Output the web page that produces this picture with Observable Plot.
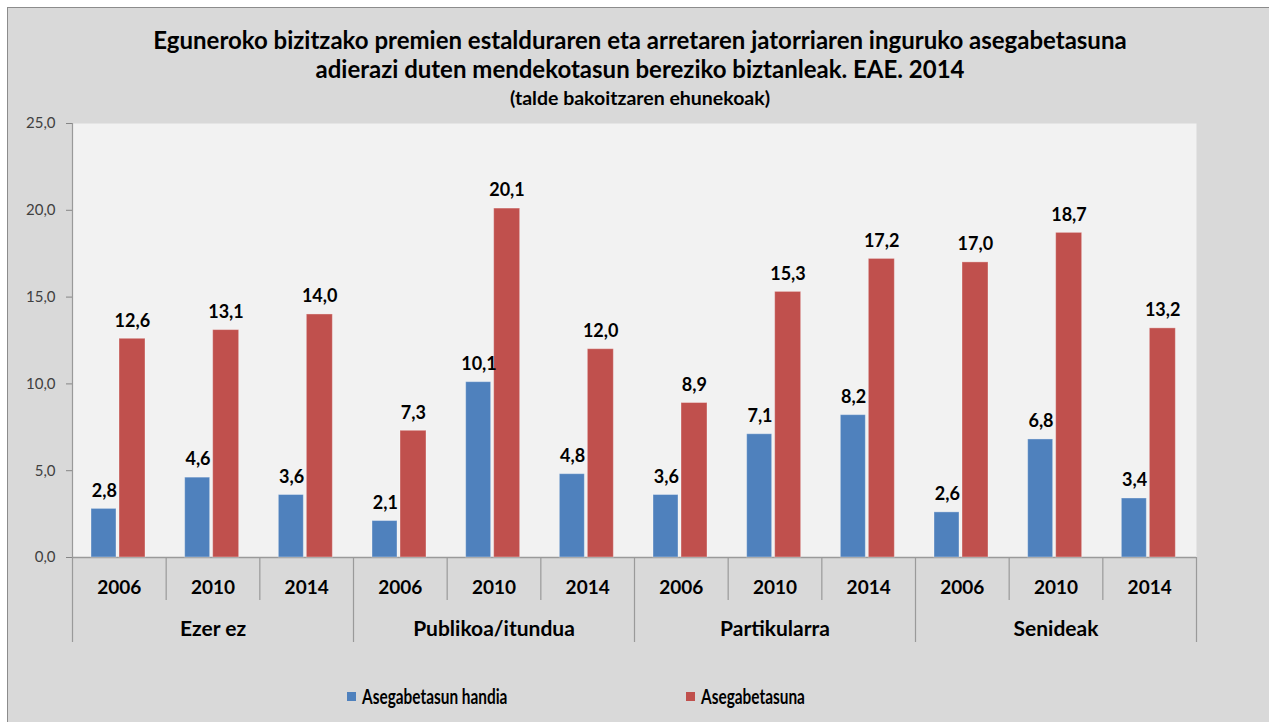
<!DOCTYPE html>
<html>
<head>
<meta charset="utf-8">
<script src="https://cdn.jsdelivr.net/npm/d3@7"></script>
<script src="https://cdn.jsdelivr.net/npm/@observablehq/plot@0.6"></script>
<style>
  html, body { margin: 0; padding: 0; background: #ffffff; }
  body { width: 1269px; height: 722px; position: relative; overflow: hidden; font-family: Lato, "Open Sans", sans-serif; }
  #box { position: absolute; left: 7px; top: 7px; width: 1270px; height: 720px; background: #d9d9d9; border: 1px solid #8c8c8c; box-sizing: border-box; }
  #chart { position: absolute; left: 0; top: 0; }
  .title { position: absolute; left: 0; width: 1280px; text-align: center; font-weight: bold; color: #000; white-space: nowrap; }
  #t1 { top: 25px; font-size: 24px; }
  #t2 { top: 54px; font-size: 24px; }
  #t3 { top: 86px; font-size: 19.5px; }
  #legend { position: absolute; top: 684px; left: 0; font-weight: bold; font-size: 20.5px; color: #000; }
  .li { position: absolute; white-space: nowrap; display: flex; align-items: center; }
  .sw { width: 9px; height: 9px; display: inline-block; margin-right: 6px; }
  .lt { display: inline-block; transform: scaleX(0.75); transform-origin: left center; }
</style>
</head>
<body>
<div id="box"></div>
<div id="chart"></div>
<div class="title" id="t1">Eguneroko bizitzako premien estalduraren eta arretaren jatorriaren inguruko asegabetasuna</div>
<div class="title" id="t2">adierazi duten mendekotasun bereziko biztanleak. EAE. 2014</div>
<div class="title" id="t3">(talde bakoitzaren ehunekoak)</div>
<div id="legend"></div>
<script>
const groups = ["Ezer ez", "Publikoa/itundua", "Partikularra", "Senideak"];
const years = ["2006", "2010", "2014"];
const seriesNames = ["Asegabetasun handia", "Asegabetasuna"];
const seriesColors = ["#4f81bd", "#c0504d"];
const handia = [2.8, 4.6, 3.6, 2.1, 10.1, 4.8, 3.6, 7.1, 8.2, 2.6, 6.8, 3.4];
const asegabetasuna = [12.6, 13.1, 14.0, 7.3, 20.1, 12.0, 8.9, 15.3, 17.2, 17.0, 18.7, 13.2];
const yTicks = [0, 5, 10, 15, 20, 25];

const keys = groups.flatMap(g => years.map(y => g + "|" + y));
const rowsA = keys.map((k, i) => ({key: k, value: handia[i]}));
const rowsB = keys.map((k, i) => ({key: k, value: asegabetasuna[i]}));
const yearRows = keys.map(k => ({key: k, year: k.split("|")[1]}));
const groupRows = groups.map(g => ({key: g + "|" + years[1], group: g}));
const innerEdges = keys.filter((k, i) => i % 3 !== 0);
const groupEdges = keys.filter((k, i) => i % 3 === 0);

const W = 1269, H = 722, mL = 72, mR = 73, mT = 123, mB = 165;
const slot = (W - mL - mR) / keys.length;
const fmt = v => v.toFixed(1).replace(".", ",");
const sepColor = "#9a9a9a";

const chart = Plot.plot({
  width: W, height: H,
  marginTop: mT, marginBottom: mB, marginLeft: mL, marginRight: mR,
  style: {background: "transparent", fontFamily: "Lato, 'Open Sans', sans-serif", overflow: "visible"},
  x: {domain: keys, padding: 0, round: false, axis: null},
  y: {domain: [0, 25], ticks: yTicks, tickFormat: fmt, label: null},
  marks: [
    Plot.frame({fill: "#f2f2f2", stroke: null}),
    Plot.axisY({ticks: yTicks, tickFormat: fmt, label: null, tickSize: 6, tickPadding: 11, fontSize: 15, stroke: "#868686", color: "#404040"}),
    Plot.ruleY([0], {stroke: sepColor, strokeWidth: 1.5}),
    Plot.ruleX([keys[0]], {dx: -slot / 2, stroke: sepColor, strokeWidth: 1.2, insetBottom: -85}),
    Plot.ruleX(innerEdges, {x: d => d, y1: 0, y2: 0, dx: -slot / 2, insetBottom: -43, stroke: sepColor, strokeWidth: 1.2}),
    Plot.ruleX(groupEdges.slice(1), {x: d => d, y1: 0, y2: 0, dx: -slot / 2, insetBottom: -85, stroke: sepColor, strokeWidth: 1.2}),
    Plot.ruleX([keys[keys.length - 1]], {x: d => d, y1: 0, y2: 0, dx: slot / 2, insetBottom: -85, stroke: sepColor, strokeWidth: 1.2}),
    Plot.barY(rowsA, {x: "key", y: "value", fill: seriesColors[0], insetLeft: 19, insetRight: slot - 44, stroke: "#ffffff", strokeOpacity: 0.35}),
    Plot.barY(rowsB, {x: "key", y: "value", fill: seriesColors[1], insetLeft: 47, insetRight: slot - 73, stroke: "#ffffff", strokeOpacity: 0.35}),
    Plot.text(rowsA, {x: "key", y: "value", text: d => fmt(d.value), dx: -15, dy: -18, fontSize: 18, fontWeight: "bold", fill: "#000"}),
    Plot.text(rowsB, {x: "key", y: "value", text: d => fmt(d.value), dx: 13, dy: -18, fontSize: 18, fontWeight: "bold", fill: "#000"}),
    Plot.text(yearRows, {x: "key", y: () => 0, text: "year", dy: 30, fontSize: 19, fontWeight: "bold", fill: "#000"}),
    Plot.text(groupRows, {x: "key", y: () => 0, text: "group", dy: 72, fontSize: 21, fontWeight: "bold", fill: "#000"})
  ]
});
document.getElementById("chart").appendChild(chart);

const legend = document.getElementById("legend");
const legendX = [347, 686];
seriesNames.forEach((name, i) => {
  const item = document.createElement("div");
  item.className = "li";
  item.style.left = legendX[i] + "px";
  item.innerHTML = `<span class="sw" style="background:${seriesColors[i]}"></span><span class="lt">${name}</span>`;
  legend.appendChild(item);
});
</script>
</body>
</html>
